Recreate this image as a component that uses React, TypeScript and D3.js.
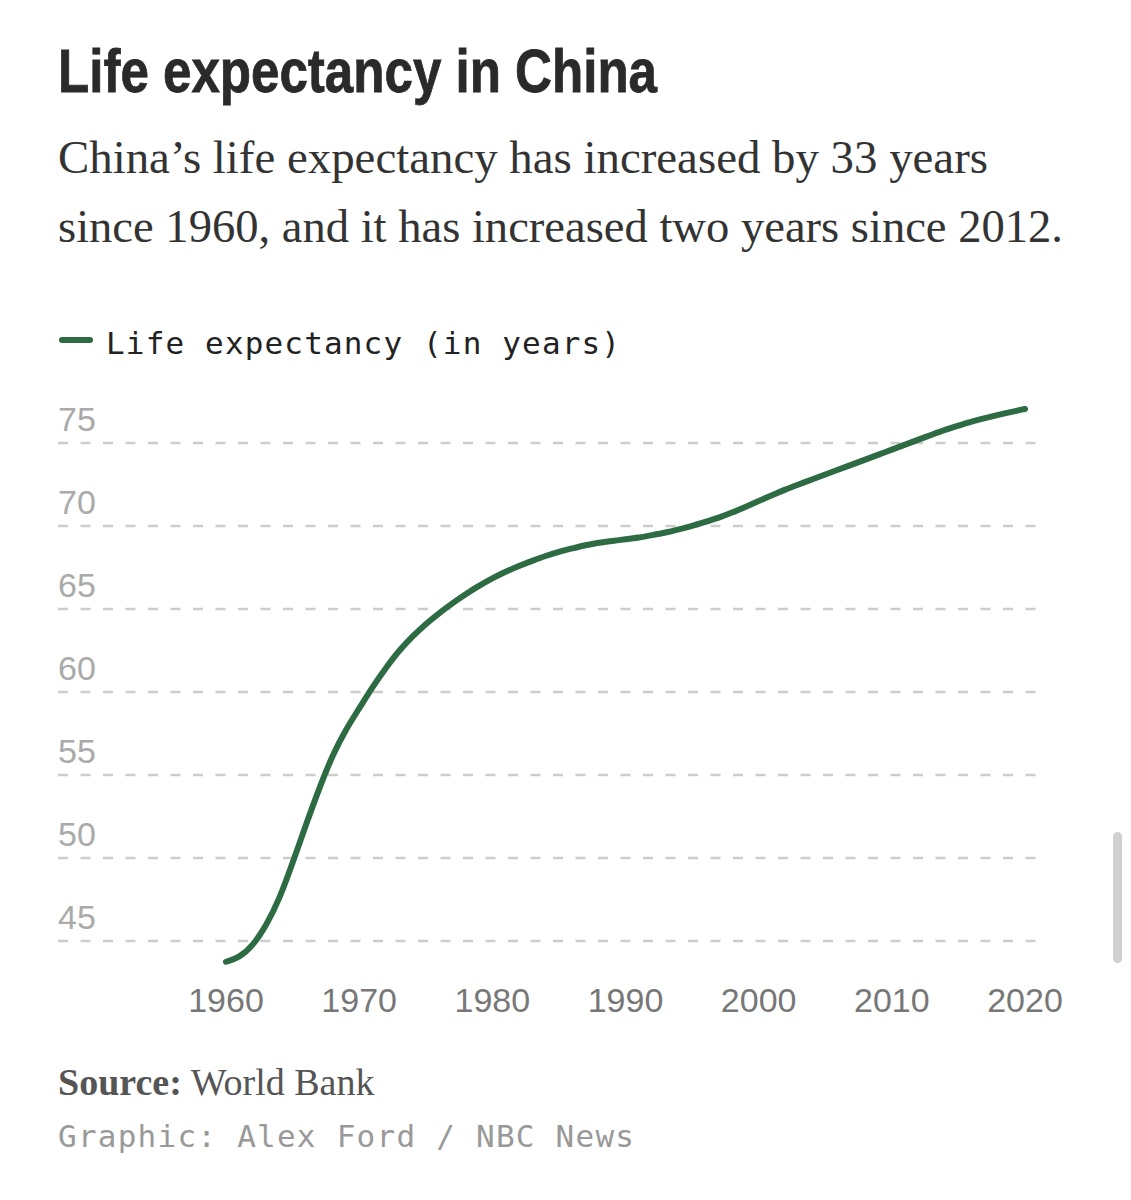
import React from 'react';
import * as d3 from 'd3';

// World Bank life expectancy at birth, China
const years = d3.range(1960, 2021);
const lifeExpectancy = [
    43.75, 44.0, 44.7, 45.9, 47.5, 49.7, 52.0, 54.2, 56.2, 57.75,
    59.0, 60.3, 61.45, 62.5, 63.35, 64.1, 64.75, 65.35, 65.9, 66.4,
    66.85, 67.25, 67.6, 67.9, 68.2, 68.45, 68.65, 68.85, 69.0, 69.1,
    69.2, 69.3, 69.45, 69.6, 69.8, 70.0, 70.25, 70.5, 70.8, 71.15,
    71.5, 71.85, 72.2, 72.5, 72.8, 73.1, 73.4, 73.7, 74.0, 74.3,
    74.6, 74.9, 75.2, 75.5, 75.8, 76.05, 76.3, 76.5, 76.7, 76.88,
    77.05,
];
const yTicks = [45, 50, 55, 60, 65, 70, 75];
const xTicks = [1960, 1970, 1980, 1990, 2000, 2010, 2020];

const title = 'Life expectancy in China';
const subtitle = [
    'China\u2019s life expectancy has increased by 33 years',
    'since 1960, and it has increased two years since 2012.',
];
const legendLabel = 'Life expectancy (in years)';
const credit = 'Graphic: Alex Ford / NBC News';

const WIDTH = 1131;
const HEIGHT = 1200;
const GREEN = '#2d6b42';
const MONO = "'DejaVu Sans Mono', 'Liberation Mono', monospace";
const SANS = "'Liberation Sans', Arial, sans-serif";

const App: React.FC = () => {
    const x = d3.scaleLinear().domain([1960, 2020]).range([226, 1025]);
    const y = d3.scaleLinear().domain([45, 75]).range([941, 443]);

    const line = d3
        .line<number>()
        .x((_, i) => x(years[i]))
        .y((d) => y(d))
        .curve(d3.curveBasis);

    return (
        <svg
            width={WIDTH}
            height={HEIGHT}
            style={{ position: 'absolute', left: 0, top: 0, background: '#fff' }}
        >
            <rect width={WIDTH} height={HEIGHT} fill="#fff" />

            <text
                x={58}
                y={92}
                fontFamily="'Liberation Sans Narrow', 'Liberation Sans', sans-serif"
                fontWeight="bold"
                fontSize={61}
                fill="#2a2a2a"
                stroke="#2a2a2a"
                strokeWidth={0.8}
                textLength={599}
                lengthAdjust="spacingAndGlyphs"
            >
                {title}
            </text>

            {subtitle.map((s, i) => (
                <text
                    key={i}
                    x={58}
                    y={173 + i * 69}
                    fontFamily="'Liberation Serif', serif"
                    fontSize={47}
                    fill="#333"
                    textLength={i === 0 ? 930 : 1005}
                    lengthAdjust="spacingAndGlyphs"
                >
                    {s}
                </text>
            ))}

            {/* legend */}
            <line x1={62} x2={90} y1={340} y2={340} stroke={GREEN} strokeWidth={6} strokeLinecap="round" />
            <text
                x={106}
                y={354}
                fontFamily={MONO}
                fontSize={31}
                fill="#222"
                textLength={514}
                lengthAdjust="spacing"
            >
                {legendLabel}
            </text>

            {/* grid + y labels */}
            {yTicks.map((t) => (
                <g key={t}>
                    <line
                        x1={58}
                        x2={1045}
                        y1={y(t)}
                        y2={y(t)}
                        stroke="#cdcdcd"
                        strokeWidth={2.5}
                        strokeDasharray="10 12.5"
                    />
                    <text x={58} y={y(t) - 12} fontFamily={SANS} fontSize={34} fill="#aaa">
                        {t}
                    </text>
                </g>
            ))}

            {/* x labels */}
            {xTicks.map((t) => (
                <text
                    key={t}
                    x={x(t)}
                    y={1012}
                    textAnchor="middle"
                    fontFamily={SANS}
                    fontSize={34}
                    fill="#777"
                >
                    {t}
                </text>
            ))}

            <path
                d={line(lifeExpectancy) ?? ''}
                fill="none"
                stroke={GREEN}
                strokeWidth={6}
                strokeLinecap="round"
                strokeLinejoin="round"
            />

            {/* source */}
            <text x={58} y={1095} fontFamily="'Liberation Serif', serif" fontSize={38} fill="#555">
                <tspan fontWeight="bold">Source:</tspan>
                <tspan> World Bank</tspan>
            </text>
            <text
                x={58}
                y={1147}
                fontFamily={MONO}
                fontSize={31}
                fill="#999"
                textLength={576}
                lengthAdjust="spacing"
            >
                {credit}
            </text>

            {/* scroll indicator */}
            <rect x={1113} y={832} width={9} height={131} rx={4.5} fill="#d0d0d0" />
        </svg>
    );
};

export default App;
